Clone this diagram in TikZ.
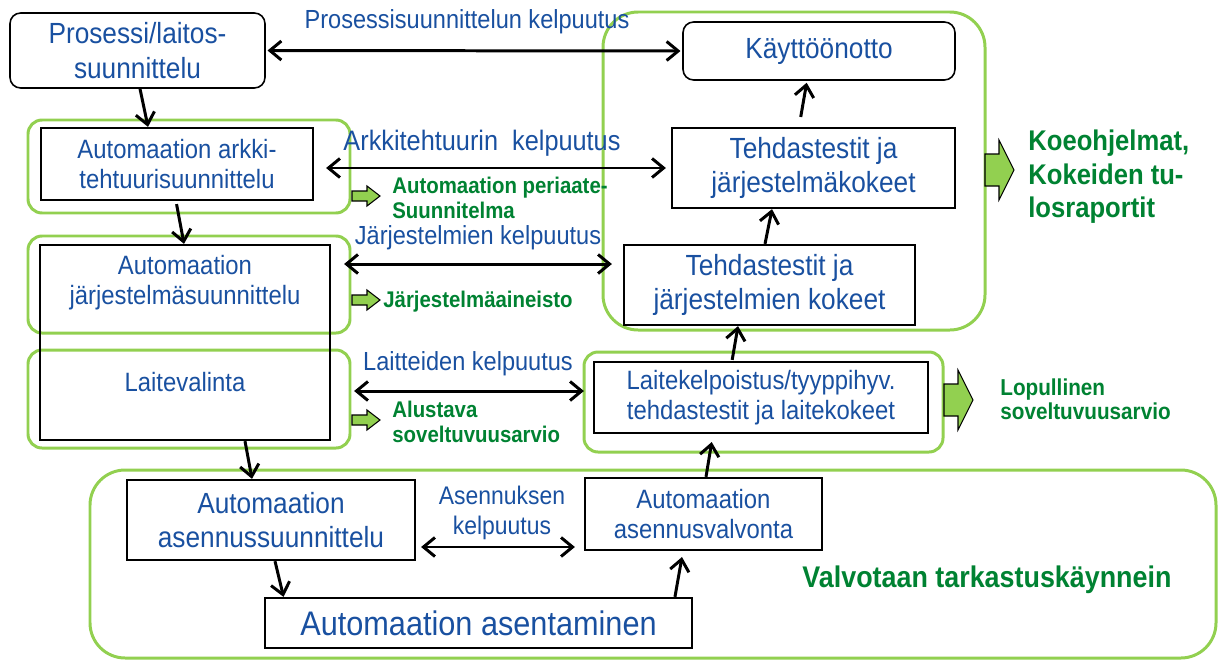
\documentclass[tikz,border=0pt]{standalone}
\usepackage{fontspec}
\setmainfont[FakeStretch=0.9]{Liberation Sans}
\usepackage{tikz}
\usetikzlibrary{arrows.meta,positioning}
\definecolor{sininen}{RGB}{25,80,160}
\definecolor{vihrea}{RGB}{146,208,80}
\definecolor{tummavihrea}{RGB}{0,130,50}
\tikzset{
  laatikko/.style={draw=black,line width=1.3pt,align=center,text=sininen,inner sep=2pt},
  pyorea/.style={laatikko,rounded corners=6pt,line width=0.9pt},
  kehys/.style={draw=vihrea,line width=1.7pt,rounded corners=8pt},
  nuoli/.style={-{Straight Barb[length=2.3mm,width=3.8mm]},line width=1.7pt},
  kaksinuoli/.style={{Straight Barb[length=2.3mm,width=3.8mm]}-{Straight Barb[length=2.3mm,width=3.8mm]},line width=1.7pt},
  blokki/.style={fill=vihrea,draw=black,line width=0.6pt},
  iso/.style={font=\fontsize{16.6}{19.5}\selectfont},
  keski/.style={font=\fontsize{15.1}{17}\selectfont},
  kelp/.style={text=sininen,font=\fontsize{14.9}{16.5}\selectfont,inner sep=0pt},
  tulos/.style={text=tummavihrea,font=\bfseries\fontsize{12.9}{14.2}\selectfont,align=left,anchor=west,inner sep=0pt}
}
\newcommand{\pieninuoli}[1]{\draw[blokki,shift={#1}] (0,-5)--(15,-5)--(15,-10)--(28,0)--(15,10)--(15,5)--(0,5)--cycle;}
\newcommand{\isonuoli}[1]{\draw[blokki,shift={#1}] (0,-16)--(14,-16)--(14,-30)--(29,0)--(14,30)--(14,16)--(0,16)--cycle;}

\begin{document}
\begin{tikzpicture}[x=0.02cm,y=-0.02cm]
\useasboundingbox (0,0) rectangle (1224,660);
% vihreat kehykset
\draw[kehys,rounded corners=20pt] (603,12) rectangle (985,330);
\draw[kehys] (28,120) rectangle (350,213);
\draw[kehys] (28,236) rectangle (350,333);
\draw[kehys] (28,350) rectangle (350,448);
\draw[kehys] (584,352) rectangle (943,452);
\draw[kehys,rounded corners=20pt] (90,470) rectangle (1216,658);
% suunnittelu (vasen)
\node[pyorea,iso,minimum width=5.1cm,minimum height=1.5cm] (proses) at (137.5,50.5) {Prosessi/laitos-\\suunnittelu};
\node[laatikko,keski,minimum width=5.44cm,minimum height=1.44cm] (arkki) at (177,164) {Automaation arkki-\\tehtuurisuunnittelu};
\node[laatikko,minimum width=5.8cm,minimum height=3.9cm] (jarj) at (185,342.5) {};
\node[keski,align=center,text=sininen] (jarjt) at (185,283) {Automaation\\järjestelmäsuunnittelu};
\node[keski,text=sininen] (valinta) at (185,382) {Laitevalinta};
% kokeet (oikea)
\node[pyorea,iso,minimum width=5.44cm,minimum height=1.16cm] (kaytto) at (819,51) {Käyttöönotto};
\node[laatikko,iso,minimum width=5.66cm,minimum height=1.6cm] (tehdas1) at (813.5,168) {Tehdastestit ja\\järjestelmäkokeet};
\node[laatikko,iso,minimum width=5.82cm,minimum height=1.6cm] (tehdas2) at (769.5,285) {Tehdastestit ja\\järjestelmien kokeet};
\node[laatikko,keski,minimum width=6.68cm,minimum height=1.42cm] (laite) at (761,397.5) {Laitekelpoistus/tyyppihyv.\\tehdastestit ja laitekokeet};
% asennus (ala)
\node[laatikko,iso,minimum width=5.76cm,minimum height=1.6cm] (asuun) at (271,520) {Automaation\\asennussuunnittelu};
\node[laatikko,keski,minimum width=4.74cm,minimum height=1.44cm] (avalv) at (703.5,514) {Automaation\\asennusvalvonta};
\node[laatikko,font=\fontsize{19.4}{22}\selectfont,minimum width=8.54cm,minimum height=1cm] (asent) at (478.5,623) {Automaation asentaminen};
% kelpuutukset
\node[kelp] (k1) at (467,22) {Prosessisuunnittelun kelpuutus};
\node[kelp,font=\fontsize{16}{18}\selectfont] (k2) at (482,143) {Arkkitehtuurin\ \ kelpuutus};
\node[kelp] (k3) at (478,238) {Järjestelmien kelpuutus};
\node[kelp] (k4) at (468,364) {Laitteiden kelpuutus};
\node[kelp,align=center,font=\fontsize{14.5}{17}\selectfont] (k5) at (502,513) {Asennuksen\\kelpuutus};
\draw[kaksinuoli,shorten <=1pt,shorten >=1pt] (proses.east) -- (kaytto.west);
\draw[kaksinuoli,shorten <=0.24cm,shorten >=0.1cm] (arkki.east |- tehdas1.west) -- (tehdas1.west);
\coordinate (j1) at ([yshift=0.42cm]tehdas2.west);
\draw[kaksinuoli,shorten <=0.26cm,shorten >=0.22cm] (jarj.east |- j1) -- (j1);
\coordinate (l1) at ([yshift=0.13cm]laite.west);
\draw[kaksinuoli,shorten <=0.46cm,shorten >=0.18cm] (jarj.east |- l1) -- (l1);
\coordinate (a1) at ([yshift=-0.54cm]asuun.east);
\draw[kaksinuoli,shorten <=0.1cm,shorten >=0.18cm] (a1) -- (a1 -| avalv.west);
% kulku
\draw[nuoli] ([xshift=0.05cm]proses.south) -- ([xshift=-0.58cm]arkki.north);
\draw[nuoli,shorten <=0.06cm] ([xshift=-0.02cm]arkki.south) -- ([xshift=-0.02cm]jarj.north);
\draw[nuoli] ([xshift=1.2cm]jarj.south) -- ([xshift=-0.38cm]asuun.north);
\draw[nuoli] ([xshift=0.08cm]asuun.south) -- ([xshift=-3.9cm]asent.north);
\draw[nuoli,shorten >=0.12cm] ([xshift=3.93cm]asent.north) -- ([xshift=-0.41cm]avalv.south);
\draw[nuoli,shorten >=0.16cm] ([xshift=0.05cm]avalv.north) -- ([xshift=-0.96cm]laite.south);
\draw[nuoli,shorten <=0.02cm] ([xshift=-0.58cm]laite.north) -- ([xshift=-0.63cm]tehdas2.south);
\draw[nuoli] ([xshift=-0.09cm]tehdas2.north) -- ([xshift=-0.83cm]tehdas1.south);
\draw[nuoli,shorten <=0.2cm,shorten >=0.04cm] ([xshift=-0.29cm]tehdas1.north) -- ([xshift=-0.24cm]kaytto.south);
% tulokset
\pieninuoli{(352,196)}
\pieninuoli{(352,300)}
\pieninuoli{(352,420)}
\isonuoli{(985,170)}
\isonuoli{(944,400)}
\node[tulos] (t1) at (392,198) {Automaation periaate-\\Suunnitelma};
\node[tulos] (t2) at (383,302) {Järjestelmäaineisto};
\node[tulos] (t3) at (392,422) {Alustava\\soveltuvuusarvio};
\node[tulos,font=\bfseries\fontsize{13.1}{13.7}\selectfont] (t4) at (1000,399) {Lopullinen\\soveltuvuusarvio};
\node[tulos,font=\bfseries\fontsize{16.2}{19}\selectfont] (t5) at (1028,177) {Koeohjelmat,\\Kokeiden tu-\\losraportit};
\node[tulos,anchor=center,font=\bfseries\fontsize{17}{18}\selectfont] (t6) at (987,580) {Valvotaan tarkastuskäynnein};
\end{tikzpicture}
\end{document}
